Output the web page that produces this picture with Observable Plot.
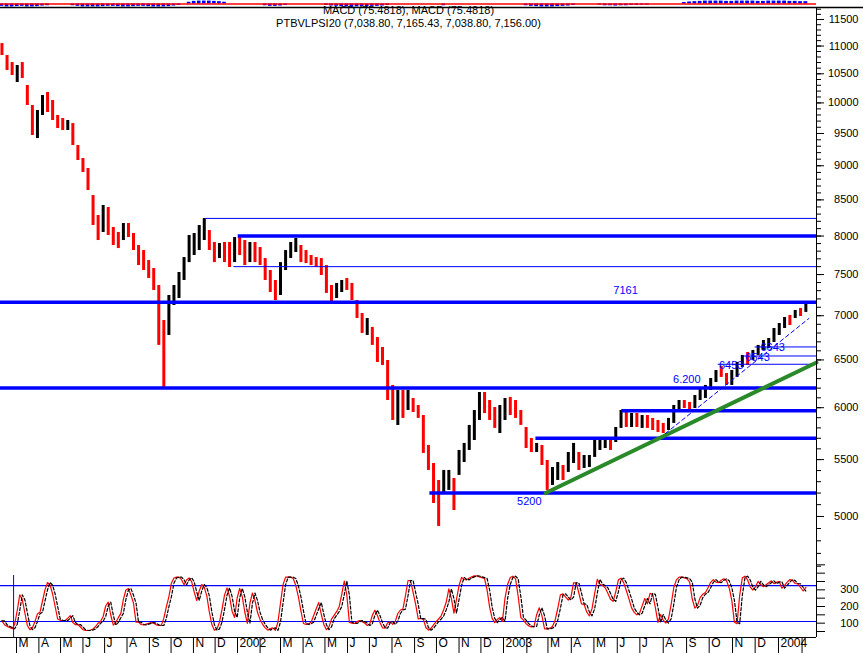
<!DOCTYPE html>
<html><head><meta charset="utf-8">
<script src="https://cdn.jsdelivr.net/npm/d3@7"></script>
<script src="https://cdn.jsdelivr.net/npm/@observablehq/plot@0.6"></script>
<style>
body{margin:0;background:#fff;}
#chart{position:relative;width:863px;height:653px;overflow:hidden;background:#fff;}
#chart svg{position:absolute;left:0;top:0;}
</style></head><body><div id="chart"></div>
<script>
// ---------- data ----------
const weekStart = "2001-02-09"; // weekly bars (Fridays)
const priceHigh = [11046,10827,10700,10647,10700,10296,9957,9874,10125,10176,10040,9791,9742,9709,9660,9311,9110,8959,8562,8280,8420,8392,8116,8048,8170,8170,8034,7874,7808,7678,7576,7364,6944,7241,7364,7526,7717,8007,8034,8143,8239,8075,7914,7900,7914,7914,7980,7980,7940,7914,7914,7848,7704,7551,7426,7652,7808,7914,7967,7874,7808,7743,7717,7704,7614,7364,7389,7426,7451,7389,7181,7026,6967,6864,6749,6637,6494,6228,6176,6176,6176,6093,6022,5922,5632,5464,5311,5401,5401,5329,5585,5651,5824,5972,6155,6155,6073,6002,6022,6093,6104,6073,5972,5804,5698,5651,5632,5492,5428,5473,5446,5566,5651,5566,5538,5538,5679,5679,5679,5679,5804,5972,5972,5942,5942,5922,5922,5893,5873,5844,5893,6022,6073,6073,6053,6124,6197,6228,6301,6386,6429,6354,6386,6472,6549,6582,6604,6660,6715,6738,6852,6909,6979,7003,7062,7086,7165];
const priceLow = [10827,10558,10470,10348,10418,9957,9468,9420,9791,9841,9709,9580,9548,9548,9311,9080,8899,8634,8143,7940,8048,8007,7874,7834,7940,7980,7808,7614,7551,7451,7302,6660,6207,6772,7121,7205,7426,7652,7743,7808,7940,7808,7652,7704,7652,7589,7652,7743,7614,7652,7652,7614,7426,7278,7181,7241,7551,7704,7782,7652,7639,7614,7589,7488,7266,7145,7205,7278,7302,7181,6967,6795,6772,6660,6472,6440,6073,5873,5824,5893,5972,5952,5893,5557,5401,5110,4917,5206,5223,5050,5356,5473,5585,5679,5873,5942,5873,5795,5746,5873,5922,5893,5824,5603,5566,5566,5446,5223,5267,5311,5311,5383,5464,5401,5419,5428,5520,5585,5603,5585,5660,5795,5804,5804,5804,5795,5795,5775,5756,5746,5775,5844,5972,5992,5952,5992,6073,6093,6176,6259,6312,6228,6228,6312,6418,6440,6494,6549,6604,6626,6693,6772,6852,6886,6967,6991,7039];
const priceClose = [10870,10600,10520,10550,10450,10000,9550,9800,10050,9900,9750,9650,9600,9650,9350,9100,8950,8680,8200,8050,8350,8100,7950,7900,8100,8050,7850,7650,7600,7500,7350,6750,6500,7150,7300,7450,7650,7950,7950,8100,8200,7850,7700,7800,7750,7700,7900,7850,7700,7850,7750,7650,7450,7300,7250,7600,7750,7850,7900,7700,7680,7650,7620,7500,7300,7200,7350,7400,7330,7200,7000,6850,6900,6700,6550,6480,6150,5950,6100,6050,6100,6000,5920,5600,5450,5200,5050,5300,5350,5150,5550,5600,5800,5950,6100,6000,5900,5850,5950,6050,6000,5950,5850,5650,5600,5600,5480,5250,5400,5450,5350,5500,5600,5450,5480,5500,5650,5650,5660,5620,5780,5930,5850,5900,5850,5880,5830,5800,5780,5760,5880,6000,6050,6020,6000,6100,6180,6200,6280,6370,6350,6260,6370,6450,6530,6500,6580,6640,6700,6720,6840,6900,6960,6950,7050,7040,7156];
const macdHist = [-0.8,-1,-1,-0.9,-0.8,-1,-1,-0.9,-0.7,-0.6,0,0,0,0,-0.6,-0.8,-1,-1,-1,-1,-0.9,-0.8,-0.8,-0.9,-1,-1,-0.9,-0.8,-0.8,-0.9,-1,-1,-1,-0.9,-0.7,-0.5,0,0.6,0.9,1,1,1,0.9,0.8,0.6,0,0,0,0,0,0,0,-0.6,-0.8,-0.8,-0.7,-0.5,0,0,0,0,0,0,0,-0.5,-0.7,-0.8,-0.9,-1,-1,-1,-0.9,-0.9,-0.8,-0.8,-0.7,-0.5,0,0,0,0,0,0,0,0,0,0,-0.6,0,0,0,0,0,0,0,0,0,0,0,0,0,0,0,-0.6,-0.8,-0.9,-1,-1,-1,-0.9,-0.8,-0.7,-0.5,0,0,0,0,-0.4,-0.6,-0.6,-0.7,-0.6,-0.6,-0.5,-0.5,-0.4,-0.4,0,0,0,0,0,0,0.5,0.7,0.8,0.9,1,1,1,1,0.9,0.9,1,1,1,1,0.9,0.9,1,1,1,1,0.9,0.9,0.8,0.8];
const oscStart = "2001-02-09"; // oscillator samples every 3.5 days
const oscFast = [114,91,81,74,66,94,176,270,241,164,86,61,73,109,156,165,233,301,344,328,275,200,125,117,116,116,130,145,104,91,92,77,61,56,56,59,65,80,100,112,140,203,226,149,88,105,133,159,243,299,308,267,221,106,106,92,89,94,99,104,100,90,86,86,130,198,259,340,371,376,376,361,330,359,372,349,288,236,293,332,315,264,167,92,58,65,106,181,268,312,260,172,134,251,309,259,167,99,219,281,235,164,121,93,72,58,67,72,57,107,221,331,376,376,376,368,325,259,174,98,93,96,106,146,187,224,152,92,61,78,124,147,169,199,271,353,269,105,100,98,109,115,109,101,86,95,147,178,146,103,72,70,102,108,93,111,158,179,184,266,356,356,283,213,126,128,123,74,58,69,90,109,125,144,181,227,306,247,160,242,326,375,362,360,371,378,384,383,378,373,368,298,195,129,103,122,134,111,250,333,374,382,366,260,134,118,97,83,78,81,151,192,145,66,66,70,80,118,188,270,276,256,239,256,342,342,281,216,213,167,144,187,279,363,334,326,312,279,244,231,288,360,370,343,296,246,192,165,150,159,204,248,216,279,273,195,105,152,118,101,126,212,314,360,376,376,372,367,347,245,190,207,253,274,284,313,345,361,346,343,358,366,355,313,237,105,97,268,372,382,359,316,299,319,351,330,319,330,343,354,337,346,349,310,327,346,362,355,338,336,314,293,315];
const oscSlow = [114,114,91,81,74,66,94,176,270,241,164,86,61,73,109,156,165,233,301,344,328,275,200,125,117,116,116,130,145,104,91,92,77,61,56,56,59,65,80,100,112,140,203,226,149,88,105,133,159,243,299,308,267,221,106,106,92,89,94,99,104,100,90,86,86,130,198,259,340,371,376,376,361,330,359,372,349,288,236,293,332,315,264,167,92,58,65,106,181,268,312,260,172,134,251,309,259,167,99,219,281,235,164,121,93,72,58,67,72,57,107,221,331,376,376,376,368,325,259,174,98,93,96,106,146,187,224,152,92,61,78,124,147,169,199,271,353,269,105,100,98,109,115,109,101,86,95,147,178,146,103,72,70,102,108,93,111,158,179,184,266,356,356,283,213,126,128,123,74,58,69,90,109,125,144,181,227,306,247,160,242,326,375,362,360,371,378,384,383,378,373,368,298,195,129,103,122,134,111,250,333,374,382,366,260,134,118,97,83,78,81,151,192,145,66,66,70,80,118,188,270,276,256,239,256,342,342,281,216,213,167,144,187,279,363,334,326,312,279,244,231,288,360,370,343,296,246,192,165,150,159,204,248,216,279,273,195,105,152,118,101,126,212,314,360,376,376,372,367,347,245,190,207,253,274,284,313,345,361,346,343,358,366,355,313,237,105,97,268,372,382,359,316,299,319,351,330,319,330,343,354,337,346,349,310,327,346,362,355,338,336,314,293];
const thickLevels = [
  {value: 8000, start: "2002-01-02"},
  {value: 7161, start: "2001-02-07"},
  {value: 6200, start: "2001-02-07"},
  {value: 5970, start: "2003-06-07"},
  {value: 5700, start: "2003-02-13"},
  {value: 5200, start: "2002-09-22"}
];
const thinLevels = [
  {value: 8240, start: "2001-11-18"},
  {value: 7600, start: "2001-12-27"},
  {value: 6643, start: "2003-12-01"},
  {value: 6543, start: "2003-11-15"},
  {value: 6453, start: "2003-10-13"}
];
const labelCentered = [{text: "7161", value: 7161, date: "2003-06-12"}];
const labelAboveLeft = [{text: "6.200", value: 6200, date: "2003-08-14"}];
const labelsBelow = [{text: "5200", value: 5200, date: "2003-01-19"}];
const labelsOn = [{text: "6643", value: 6643, date: "2003-12-08"}, {text: "6543", value: 6543, date: "2003-11-18"}, {text: "6453", value: 6453, date: "2003-10-14"}];
const greenTrend = [{date: "2003-02-26", value: 5200}, {date: "2004-02-20", value: 6472}];
const channelTrend = [{date: "2003-08-04", value: 5746}, {date: "2004-02-10", value: 6968}];
const oscLevels = [325, 110];
const cursorDate = "2001-02-25";
const priceTicksMajor = d3.range(5000, 11501, 500);
const priceTicksMinor = d3.range(4600, 11701, 100);
const oscTicks = d3.range(50, 451, 50);
const oscTickLabels = [100, 200, 300];
const monthLetters = ["J","F","M","A","M","J","J","A","S","O","N","D"];
const headerText = "PTBVLPSI20 (7,038.80, 7,165.43, 7,038.80, 7,156.00)";
const macdText = "MACD (75.4818), MACD (75.4818)";

// ---------- scales / helpers ----------
const xBreakDates = ["2001-02-07","2001-03-01","2002-01-01","2003-01-01","2004-01-01","2004-02-20"].map(s => new Date(s));
const xBreakPx = [0, 16, 237, 503, 778, 816];
const X = {type: "utc", domain: xBreakDates, range: xBreakPx, axis: null};
const xStart = xBreakDates[0], xEnd = xBreakDates[xBreakDates.length - 1];
const DAY = 864e5;
const FONT = "'Liberation Sans', Arial, sans-serif";
const BLUE = "#0000ff";
const style = {background: "transparent", fontFamily: FONT, fontSize: "11px", color: "black", overflow: "visible"};

const w0 = new Date(weekStart).getTime();
const weeks = priceHigh.map((h, i) => ({
  date: new Date(w0 + i * 7 * DAY),
  high: h, low: priceLow[i], close: priceClose[i],
  up: i > 0 && priceClose[i] >= priceClose[i - 1]
}));
const macdData = macdHist.map((v, i) => ({x1: new Date(w0 + (i * 7 - 2.5) * DAY), x2: new Date(w0 + (i * 7 + 2.5) * DAY), v}));
const o0 = new Date(oscStart).getTime();
const oscData = oscFast.map((v, j) => ({date: new Date(o0 + j * 3.5 * DAY), fast: v, slow: oscSlow[j] ?? v}));
const monthTicks = d3.utcMonth.range(xStart, new Date(xEnd.getTime() + DAY));
const monthLabelTicks = monthTicks.filter(d => d.getUTCMonth() !== 1);
const fmtMonth = d => d.getUTCMonth() === 0 ? String(d.getUTCFullYear()) : monthLetters[d.getUTCMonth()];
const pd = d => ({...d, date: new Date(d.date)});
const priceDomain = [4529, 11734];
const oscDomain = [14, 452];

// ---------- price panel ----------
const price = Plot.plot({
  width: 863, height: 653, marginTop: 7, marginBottom: 16, marginLeft: 0, marginRight: 47,
  style, x: X,
  y: {type: "log", domain: priceDomain, range: [575, 7], axis: null},
  marks: [
    Plot.ruleX(weeks, {x: "date", y1: "low", y2: "high", stroke: d => d.up ? "#000000" : "#ff0000", strokeWidth: 3}),
    Plot.ruleY(thinLevels, {y: "value", x1: d => new Date(d.start), x2: () => xEnd, stroke: BLUE, strokeWidth: 1}),
    Plot.ruleY(thickLevels, {y: "value", x1: d => new Date(d.start), x2: () => xEnd, stroke: BLUE, strokeWidth: 3.5}),
    Plot.line(greenTrend.map(pd), {x: "date", y: "value", stroke: "#2a8a2a", strokeWidth: 4}),
    Plot.line(channelTrend.map(pd), {x: "date", y: "value", stroke: BLUE, strokeWidth: 1, strokeDasharray: "4,3"}),
    Plot.text(labelCentered.map(pd), {x: "date", y: "value", text: "text", textAnchor: "middle", dy: -12, fill: BLUE, fontSize: 11}),
    Plot.text(labelAboveLeft.map(pd), {x: "date", y: "value", text: "text", textAnchor: "start", dy: -9, fill: BLUE, fontSize: 11}),
    Plot.text(labelsBelow.map(pd), {x: "date", y: "value", text: "text", textAnchor: "start", dy: 8, fill: BLUE, fontSize: 11}),
    Plot.text(labelsOn.map(pd), {x: "date", y: "value", text: "text", textAnchor: "start", dy: 1, fill: BLUE, fontSize: 11}),
    Plot.ruleX([xEnd], {stroke: "black"}),
    Plot.axisY(priceTicksMinor, {anchor: "right", tickSize: 4, tickFormat: () => "", label: null}),
    Plot.axisY(priceTicksMajor, {anchor: "right", tickSize: 7, tickFormat: () => "", label: null}),
    Plot.text(priceTicksMajor, {y: d => d, text: d => String(d), frameAnchor: "right", dx: 42, textAnchor: "end"}),
    Plot.text([headerText], {text: d => d, frameAnchor: "top", dy: 12}),
    Plot.text([macdText], {text: d => d, frameAnchor: "top", dy: -1})
  ]
});

// ---------- oscillator panel ----------
const osc = Plot.plot({
  width: 863, height: 653, marginTop: 564, marginBottom: 16, marginLeft: 0, marginRight: 47,
  style, x: X,
  y: {domain: oscDomain, axis: null},
  marks: [
    Plot.ruleY(oscLevels, {stroke: BLUE, strokeWidth: 1.2}),
    Plot.ruleX([new Date(cursorDate)], {y1: oscDomain[0], y2: 386, stroke: BLUE}),
    Plot.line(oscData, {x: "date", y: "fast", stroke: "#ff0000", strokeWidth: 1.2}),
    Plot.line(oscData, {x: "date", y: "slow", stroke: "#000000", strokeWidth: 1.2, strokeDasharray: "3,2"}),
    Plot.ruleY([oscDomain[0]], {stroke: "black"}),
    Plot.axisY(oscTicks, {anchor: "right", tickSize: 8, tickFormat: () => "", label: null}),
    Plot.text(oscTickLabels, {y: d => d, text: d => String(d), frameAnchor: "right", dx: 42, textAnchor: "end"}),
    Plot.axisX(monthTicks, {anchor: "bottom", tickSize: 16, tickFormat: () => "", label: null}),
    Plot.text(monthLabelTicks, {x: d => d, text: fmtMonth, frameAnchor: "bottom", dy: 9, dx: 2, textAnchor: "start", fontSize: 12})
  ]
});

// ---------- MACD strip ----------
const macd = Plot.plot({
  width: 863, height: 653, marginTop: 0, marginBottom: 646, marginLeft: 0, marginRight: 0,
  style, x: X,
  y: {domain: [-1.2, 1.2], axis: null},
  marks: [
    Plot.rect(macdData.filter(d => d.v !== 0), {x1: "x1", x2: "x2", y1: () => 0, y2: "v", fill: BLUE}),
    Plot.ruleY([0], {x1: () => xStart, x2: () => xEnd, stroke: "#ff0000", strokeWidth: 1.5}),
    Plot.ruleY([-1.2], {stroke: "black", strokeWidth: 1.5})
  ]
});

const chart = document.getElementById("chart");
chart.append(price, osc, macd);
</script></body></html>
